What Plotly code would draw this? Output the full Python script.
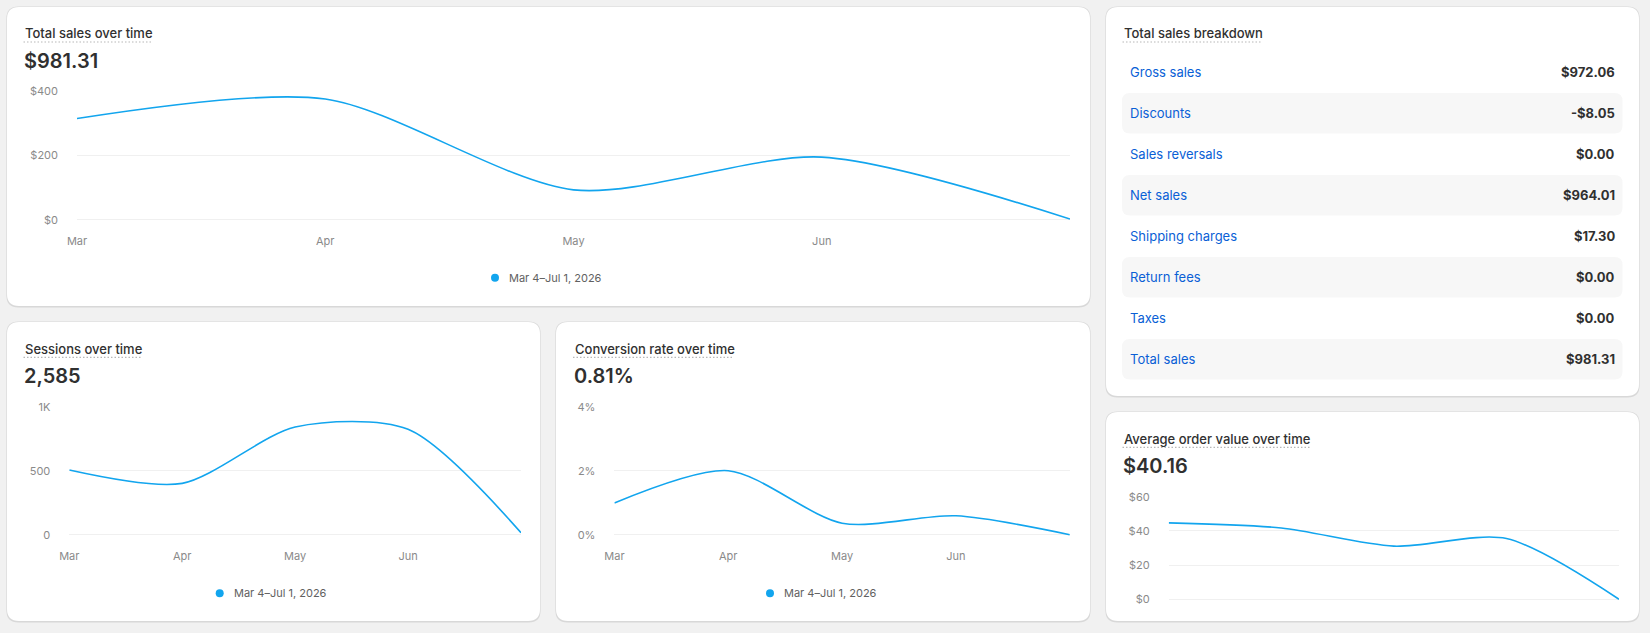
import plotly.graph_objects as go

# ---- data ----
months = ["Mar", "Apr", "May", "Jun", "Jul"]
month_ticks = ["Mar", "Apr", "May", "Jun"]
date_range_label = "Mar 4\u2013Jul 1, 2026"

total_sales = [315, 376, 93, 195, 2]
sessions = [505, 401, 841, 823, 16]
conversion_rate = [0.99, 2.0, 0.36, 0.59, 0.0]
avg_order_value = [44.7, 41.7, 31.1, 35.5, 0.0]

total_sales_sum = 981.31
sessions_total = 2585
conversion_total = 0.81
aov_total = 40.16

breakdown_labels = [
    "Gross sales", "Discounts", "Sales reversals", "Net sales",
    "Shipping charges", "Return fees", "Taxes", "Total sales",
]
breakdown_values = [972.06, -8.05, 0.00, 964.01, 17.30, 0.00, 0.00, 981.31]

# ---- page geometry (pixels) ----
W, H = 1650, 633
BG = "#f1f1f1"
LINE = "#12a5ee"
GRID = "#f0f0f0"
TEXT = "#303030"
MUTED = "#8a8a8a"
LINK = "#0a5fd6"
FONT = "Inter, Roboto, sans-serif"


def fx(px):
    return px / W


def fy(py):
    return 1 - py / H


def money(v):
    return ("-$" if v < 0 else "$") + f"{abs(v):,.2f}"


def rounded_path(x0, y0, x1, y1, r):
    """Rounded rectangle as an SVG path in paper coordinates."""
    X = [fx(x0), fx(x0 + r), fx(x1 - r), fx(x1)]
    Y = [fy(y0), fy(y0 + r), fy(y1 - r), fy(y1)]
    return (
        f"M {X[1]},{Y[0]} L {X[2]},{Y[0]} Q {X[3]},{Y[0]} {X[3]},{Y[1]} "
        f"L {X[3]},{Y[2]} Q {X[3]},{Y[3]} {X[2]},{Y[3]} "
        f"L {X[1]},{Y[3]} Q {X[0]},{Y[3]} {X[0]},{Y[2]} "
        f"L {X[0]},{Y[1]} Q {X[0]},{Y[0]} {X[1]},{Y[0]} Z"
    )


def y_domain(v_lo, py_lo, v_hi, py_hi, rng):
    # map the axis range onto the pixel rows of two known gridlines
    ppu = (py_lo - py_hi) / (v_hi - v_lo)
    bottom = py_lo + (v_lo - rng[0]) * ppu
    top = py_hi - (rng[1] - v_hi) * ppu
    return [fy(bottom), fy(top)]


cards = [
    (7, 7, 1090, 306),
    (7, 322, 540, 621),
    (556, 322, 1090, 621),
    (1106, 7, 1639, 396),
    (1106, 412, 1639, 621),
]

shapes = []
for x0, y0, x1, y1 in cards:
    shapes.append(dict(type="path", path=rounded_path(x0 - 0.6, y0 - 0.4, x1 + 0.6, y1 + 1.4, 12),
                       xref="paper", yref="paper", fillcolor="#d8d8d8", line_width=0, layer="below"))
    shapes.append(dict(type="path", path=rounded_path(x0, y0, x1, y1, 12),
                       xref="paper", yref="paper", fillcolor="white", line_width=0, layer="below"))

annotations = []


def card_header(x, y_title, y_value, title, underline_end, value_text=None):
    annotations.append(dict(
        x=fx(x), y=fy(y_title), xref="paper", yref="paper", xanchor="left", yanchor="middle",
        text=title, showarrow=False, font=dict(family=FONT, size=13, color=TEXT, weight=550),
    ))
    shapes.append(dict(
        type="line", xref="paper", yref="paper", x0=fx(x + 0.5), x1=fx(underline_end),
        y0=fy(y_title + 8.7), y1=fy(y_title + 8.7),
        line=dict(color="#b8b8b8", width=1.2, dash="1.5px,2px"),
    ))
    if value_text is not None:
        annotations.append(dict(
            x=fx(x - 1), y=fy(y_value), xref="paper", yref="paper", xanchor="left", yanchor="middle",
            text=value_text, showarrow=False, font=dict(family=FONT, size=20, color=TEXT, weight=600),
        ))


def legend_item(dot_x, y):
    shapes.append(dict(type="circle", xref="paper", yref="paper",
                       x0=fx(dot_x - 4), x1=fx(dot_x + 4), y0=fy(y + 4), y1=fy(y - 4),
                       fillcolor=LINE, line_width=0))
    annotations.append(dict(
        x=fx(dot_x + 12), y=fy(y), xref="paper", yref="paper", xanchor="left", yanchor="middle",
        text=date_range_label, showarrow=False, font=dict(family=FONT, size=11, color="#616161"),
    ))


card_header(23, 33.3, 61, "Total sales over time", 152, money(total_sales_sum))
card_header(23, 348.7, 376, "Sessions over time", 141, f"{sessions_total:,}")
card_header(572.5, 348.7, 376, "Conversion rate over time", 733, f"{conversion_total:.2f}%")
card_header(1122, 33.3, None, "Total sales breakdown", 1262)
card_header(1122, 438.7, 465.7, "Average order value over time", 1310, money(aov_total))

legend_item(495, 277.7)
legend_item(219.7, 593.3)
legend_item(770, 593.3)

# ---- breakdown table ----
row_y0, row_step = 72.3, 41
for i, (label, value) in enumerate(zip(breakdown_labels, breakdown_values)):
    cy = row_y0 + i * row_step
    if i % 2 == 1:
        shapes.append(dict(type="path", path=rounded_path(1122, cy - 20.2, 1622.5, cy + 20.2, 8),
                           xref="paper", yref="paper", fillcolor="#f7f7f7", line_width=0, layer="below"))
    annotations.append(dict(
        x=fx(1128), y=fy(cy), xref="paper", yref="paper", xanchor="left", yanchor="middle",
        text=label, showarrow=False, font=dict(family=FONT, size=13, color=LINK),
    ))
    annotations.append(dict(
        x=fx(1617), y=fy(cy), xref="paper", yref="paper", xanchor="right", yanchor="middle",
        text=money(value), showarrow=False, font=dict(family=FONT, size=13, color=TEXT, weight=650),
    ))

# ---- line charts ----
charts = [
    # values, x pixels, y gridline calibration, y range, tickvals, ticktext, show x labels
    dict(values=total_sales, px=(77, 1070), cal=(0, 219.7, 400, 91.3), rng=[-6, 400],
         tickvals=[0, 200, 400], ticktext=["$0", "$200", "$400"], xlabels=True),
    dict(values=sessions, px=(69.3, 521), cal=(0, 534.7, 1000, 406.7), rng=[-15, 1000],
         tickvals=[0, 500, 1000], ticktext=["0", "500", "1K"], xlabels=True),
    dict(values=conversion_rate, px=(614.4, 1069.8), cal=(0, 534.7, 4, 406.7), rng=[-0.06, 4],
         tickvals=[0, 2, 4], ticktext=["0%", "2%", "4%"], xlabels=True),
    dict(values=avg_order_value, px=(1168.7, 1619), cal=(0, 599.3, 60, 496.7), rng=[-1, 60],
         tickvals=[0, 20, 40, 60], ticktext=["$0", "$20", "$40", "$60"], xlabels=False),
]

fig = go.Figure()
layout_axes = {}
for i, c in enumerate(charts, start=1):
    suffix = "" if i == 1 else str(i)
    fig.add_trace(go.Scatter(
        x=months, y=c["values"], mode="lines",
        line=dict(color=LINE, width=1.6, shape="spline", smoothing=0.8),
        xaxis="x" + suffix, yaxis="y" + suffix, showlegend=False,
        hovertemplate="%{x}: %{y}<extra></extra>",
    ))
    layout_axes["xaxis" + suffix] = dict(
        domain=[fx(c["px"][0]), fx(c["px"][1])], anchor="y" + suffix,
        type="category", range=[0, len(months) - 1],
        tickmode="array", tickvals=month_ticks, ticktext=month_ticks,
        showticklabels=c["xlabels"], showgrid=False, zeroline=False, showline=False,
        ticks="", ticklabelstandoff=11, fixedrange=True, automargin=False,
        tickfont=dict(family=FONT, size=11, color=MUTED),
    )
    v_lo, py_lo, v_hi, py_hi = c["cal"]
    layout_axes["yaxis" + suffix] = dict(
        domain=y_domain(v_lo, py_lo, v_hi, py_hi, c["rng"]), anchor="x" + suffix,
        range=c["rng"], tickmode="array", tickvals=c["tickvals"], ticktext=c["ticktext"],
        showgrid=True, gridcolor=GRID, gridwidth=1, zeroline=False, showline=False,
        ticks="", ticklabelstandoff=18, fixedrange=True, automargin=False,
        tickfont=dict(family=FONT, size=11, color=MUTED),
    )

fig.update_layout(
    width=W, height=H,
    margin=dict(l=0, r=0, t=0, b=0, autoexpand=False),
    paper_bgcolor=BG, plot_bgcolor="rgba(0,0,0,0)",
    font=dict(family=FONT, color=TEXT),
    shapes=shapes, annotations=annotations,
    showlegend=False,
    **layout_axes,
)

# drop the default page margin so the figure sits flush in the window
fig.write_html("out.html", config={"displayModeBar": False},
               post_script="document.body.style.margin='0';document.body.style.overflow='hidden';")
